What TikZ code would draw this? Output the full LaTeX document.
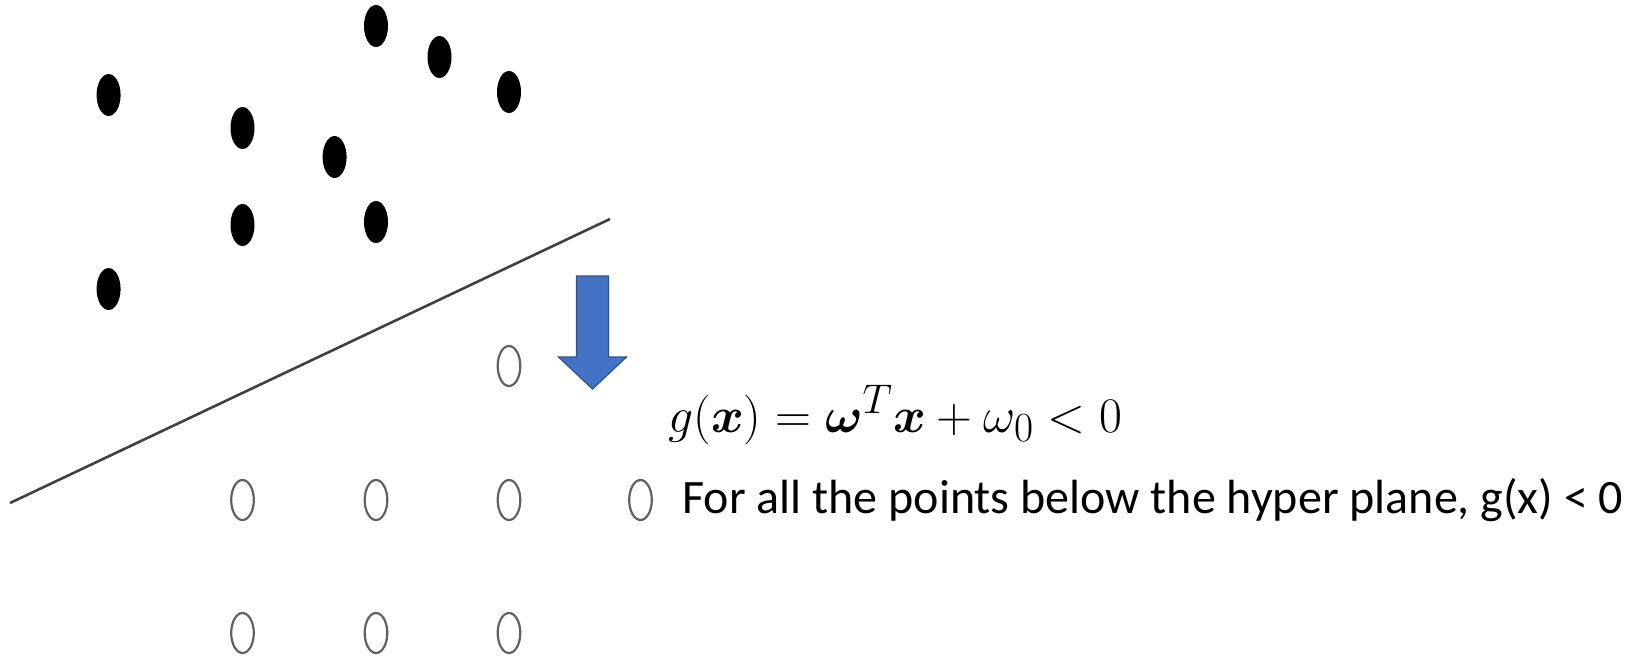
\documentclass[tikz,border=0pt]{standalone}
\usepackage{amsmath,amssymb,bm}
\usepackage{fontspec}
\newfontfamily\notefont{Carlito}
\usepackage{tikz}
\usetikzlibrary{shapes.geometric}

\definecolor{arrblue}{HTML}{4472C4}
\definecolor{arrborder}{HTML}{2F528F}

\begin{document}
\begin{tikzpicture}[
    x=0.5pt, y=-0.5pt,
    bdot/.style={ellipse, fill=black, inner sep=0pt, minimum width=12pt, minimum height=21pt},
    odot/.style={ellipse, draw=black!62, line width=1.1pt, inner sep=0pt, minimum width=11.3pt, minimum height=20pt},
    hyper/.style={draw=black!75, line width=1.3pt},
    downarr/.style={fill=arrblue, draw=arrborder, line width=0.6pt},
    eqtext/.style={font=\fontsize{24.88}{30}\selectfont, anchor=base west, inner sep=0pt},
    notetext/.style={font=\notefont\fontsize{24}{29}\selectfont, anchor=base west, inner sep=0pt}
]
\useasboundingbox (0,0) rectangle (1635,660);

\node[bdot] (b1) at (108.6,95) {};
\node[bdot] (b2) at (242.5,128) {};
\node[bdot] (b3) at (376,26) {};
\node[bdot] (b4) at (439.5,57) {};
\node[bdot] (b5) at (509,92) {};
\node[bdot] (b6) at (334.6,157) {};
\node[bdot] (b7) at (242.5,225) {};
\node[bdot] (b8) at (376,222) {};
\node[bdot] (b9) at (108.6,289) {};

\node[odot] (o1) at (509,366) {};
\node[odot] (o2) at (242.5,500) {};
\node[odot] (o3) at (376,500) {};
\node[odot] (o4) at (509,500) {};
\node[odot] (o5) at (640.5,500) {};
\node[odot] (o6) at (242.5,633) {};
\node[odot] (o7) at (376,633) {};
\node[odot] (o8) at (509,633) {};

\coordinate (hpstart) at (10,503);
\coordinate (hpend) at (610,219);
\draw[hyper] (hpstart) -- (hpend);

\draw[downarr] (576.5,276) -- (608.5,276) -- (608.5,357) -- (626.5,357) -- (592.5,389) -- (558.5,357) -- (576.5,357) -- cycle;

\node[eqtext] (gineq) at (668,432) {$g(\bm{x}) = \bm{\omega}^{T}\bm{x} + \omega_{0} < 0$};
\node[notetext] (note) at (682,513) {For all the points below the hyper plane, g(x) < 0};
\end{tikzpicture}
\end{document}
